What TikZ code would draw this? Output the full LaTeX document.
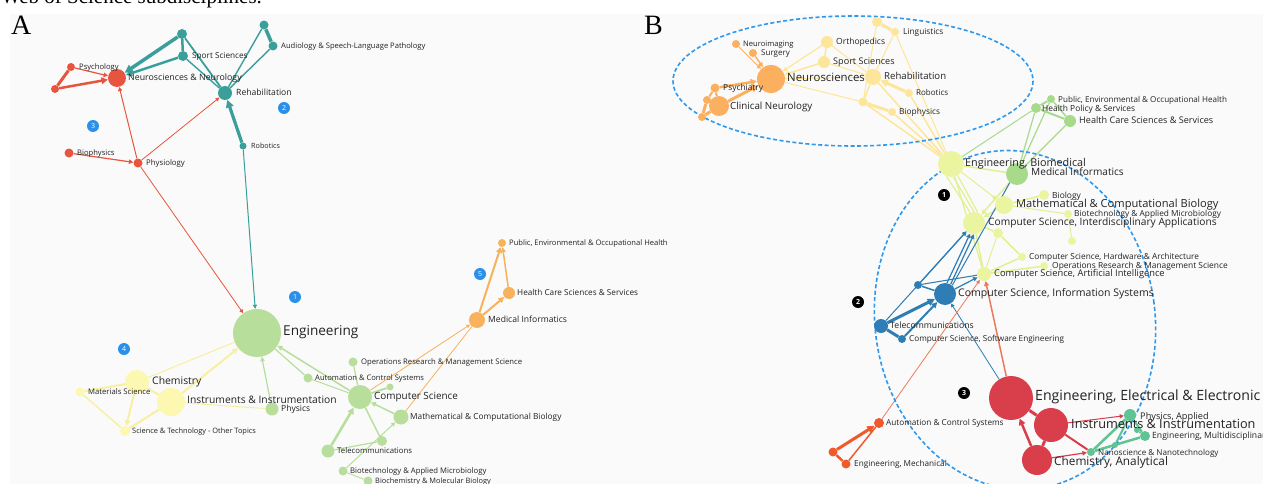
\documentclass[tikz,border=0pt]{standalone}
\usepackage{fontspec}
\setmainfont{Liberation Serif}
\newfontfamily\lab{Open Sans}
\usetikzlibrary{arrows.meta}

\definecolor{panelbg}{HTML}{FAFAFA}
\definecolor{txt}{HTML}{222222}
\definecolor{badgeblue}{HTML}{2A90EA}
\definecolor{dashblue}{HTML}{2D98EE}
% left network
\definecolor{Ared}{HTML}{E8553F}
\definecolor{Ateal}{HTML}{3A9E9A}
\definecolor{Agreen}{HTML}{B7DE9A}
\definecolor{Ayellow}{HTML}{FCF8B2}
\definecolor{Ayedge}{HTML}{F7F0A0}
\definecolor{Aorange}{HTML}{F8B25C}
% right network
\definecolor{Byellow}{HTML}{FDE69A}
\definecolor{Borange}{HTML}{FBB060}
\definecolor{Bgreen}{HTML}{A8DA8C}
\definecolor{Blime}{HTML}{EBF5A0}
\definecolor{Bledge}{HTML}{E2EF92}
\definecolor{Bblue}{HTML}{2E7DB5}
\definecolor{Bred}{HTML}{D83F4B}
\definecolor{Bored}{HTML}{F0592B}
\definecolor{Bsalmon}{HTML}{EC7A5A}
\definecolor{Bteal}{HTML}{5FC394}

\pgfdeclarelayer{panel}
\pgfdeclarelayer{edges}
\pgfsetlayers{panel,edges,main}

\tikzset{
  nd/.style={circle, inner sep=0pt, minimum size=#1},
  lb/.style={anchor=mid west, inner sep=0pt, text=txt, font=\lab\fontsize{#1}{#1}\selectfont},
  badge/.style={circle, fill=badgeblue, inner sep=0pt, minimum size=12pt, text=white, font=\lab\fontsize{7}{7}\selectfont},
  blackbadge/.style={circle, fill=black, inner sep=0pt, minimum size=12pt, text=white, font=\lab\bfseries\fontsize{7}{7}\selectfont},
  lw/.style={line width=#1},
  ar/.style={-{Triangle[length=2.5pt 1.6,width=2.5pt 1.6]}},
  ring/.style={draw=dashblue, line width=1.6pt, dash pattern=on 4pt off 2.5pt},
}

\begin{document}
\begin{tikzpicture}[x=1pt,y=-1pt]
\useasboundingbox (0,0) rectangle (1263,484);
\clip (0,0) rectangle (1263,484);

\begin{pgfonlayer}{panel}
  \fill[panelbg] (10,14) rectangle (1263,484);
\end{pgfonlayer}

\node[anchor=base west, inner sep=0pt, font=\fontsize{21}{21}\selectfont] (caption) at (1,3.5) {Web of Science subdisciplines.};
\node[anchor=base west, inner sep=0pt, font=\fontsize{28}{28}\selectfont] (panelA) at (11,35) {A};
\node[anchor=base west, inner sep=0pt, font=\fontsize{28}{28}\selectfont] (panelB) at (644,35) {B};

% ================= left network =================
\node[nd=18pt, fill=Ared] (aNeuro) at (117,78) {};
\node[nd=8pt, fill=Ared] (aPsych) at (71,67) {};
\node[nd=8pt, fill=Ared] (aRedX) at (55,89) {};
\node[nd=10pt, fill=Ateal] (aTealA) at (182,34) {};
\node[nd=10pt, fill=Ateal] (aSport) at (183,56) {};
\node[nd=9pt, fill=Ateal] (aTealB) at (264,25) {};
\node[nd=9pt, fill=Ateal] (aAudio) at (273,46) {};
\node[nd=14pt, fill=Ateal] (aRehab) at (225,93) {};
\node[nd=7pt, fill=Ateal] (aRobot) at (243,146) {};
\node[nd=9pt, fill=Ared] (aBio) at (69,153) {};
\node[nd=9pt, fill=Ared] (aPhysio) at (138,163) {};
\node[nd=48pt, fill=Agreen] (aEng) at (257,333) {};
\node[nd=24pt, fill=Ayellow] (aChem) at (137,382) {};
\node[nd=28pt, fill=Ayellow] (aInstr) at (171,402) {};
\node[nd=9pt, fill=Ayellow] (aMat) at (80,392) {};
\node[nd=10pt, fill=Ayellow] (aSciTech) at (125,431) {};
\node[nd=13pt, fill=Agreen] (aPhys) at (272,409) {};
\node[nd=9pt, fill=Agreen] (aAuto) at (308,378) {};
\node[nd=9pt, fill=Agreen] (aOps) at (353,362) {};
\node[nd=24pt, fill=Agreen] (aCS) at (360,397) {};
\node[nd=7pt, fill=Agreen] (aCSx) at (390,387) {};
\node[nd=15pt, fill=Agreen] (aMath) at (401,417) {};
\node[nd=10pt, fill=Agreen] (aGx) at (382,441) {};
\node[nd=13pt, fill=Agreen] (aTele) at (328,451) {};
\node[nd=9pt, fill=Agreen] (aBiotech) at (343,471) {};
\node[nd=9pt, fill=Agreen] (aBiochem) at (368,481) {};
\node[nd=16pt, fill=Aorange] (aMed) at (477,320) {};
\node[nd=12pt, fill=Aorange] (aHealth) at (509,293) {};
\node[nd=8pt, fill=Aorange] (aPub) at (502,243) {};

\node[badge] (aB1) at (295,297) {1};
\node[badge] (aB2) at (284,108) {2};
\node[badge] (aB3) at (93,126) {3};
\node[badge] (aB4) at (124,349) {4};
\node[badge] (aB5) at (480,274) {5};

\node[lb=8.8] (aNeuroL) at (128,78) {Neurosciences \& Neurology};
\node[lb=7.6] (aPsychL) at (79,67) {Psychology};
\node[lb=8.2] (aSportL) at (192,56) {Sport Sciences};
\node[lb=7.6] (aAudioL) at (281,46) {Audiology \& Speech-Language Pathology};
\node[lb=8.6] (aRehabL) at (236,93) {Rehabilitation};
\node[lb=7.2] (aRobotL) at (251,146) {Robotics};
\node[lb=7.6] (aBioL) at (77,153) {Biophysics};
\node[lb=7.8] (aPhysioL) at (146,163) {Physiology};
\node[lb=13.6] (aEngL) at (283,333) {Engineering};
\node[lb=10.4] (aChemL) at (152,382) {Chemistry};
\node[lb=10.3] (aInstrL) at (187,401) {Instruments \& Instrumentation};
\node[lb=7.7] (aMatL) at (88,392) {Materials Science};
\node[lb=7.4] (aSciTechL) at (132,431) {Science \& Technology - Other Topics};
\node[lb=8.5] (aPhysL) at (281,409) {Physics};
\node[lb=7.6] (aAutoL) at (315,378) {Automation \& Control Systems};
\node[lb=7.7] (aOpsL) at (361,362) {Operations Research \& Management Science};
\node[lb=9.9] (aCSL) at (374,397) {Computer Science};
\node[lb=8.3] (aMathL) at (410,417) {Mathematical \& Computational Biology};
\node[lb=7.8] (aTeleL) at (337,451) {Telecommunications};
\node[lb=7.7] (aBiotechL) at (350,471) {Biotechnology \& Applied Microbiology};
\node[lb=7.4] (aBiochemL) at (375,481) {Biochemistry \& Molecular Biology};
\node[lb=8.6] (aMedL) at (488,320) {Medical Informatics};
\node[lb=8.2] (aHealthL) at (517,293) {Health Care Sciences \& Services};
\node[lb=7.6] (aPubL) at (509,243) {Public, Environmental \& Occupational Health};

\begin{pgfonlayer}{edges}
  % neuroscience cluster
  \draw[Ared, lw=1.2, ar] (aPsych) -- (aNeuro);
  \draw[Ared, lw=2.5, ar] (aRedX) -- (aNeuro);
  \draw[Ared, lw=3] (aRedX) -- (aPsych);
  \draw[Ared, lw=1, ar] (aPhysio) -- (aNeuro);
  \draw[Ared, lw=0.8, ar] (aPhysio) -- (aRehab);
  \draw[Ared, lw=1.2, ar] (aBio) -- (aPhysio);
  \draw[Ared, lw=0.8, ar] (aPhysio) -- (aEng);
  % rehabilitation cluster
  \draw[Ateal, lw=3.5, ar] (aTealA) -- (aNeuro);
  \draw[Ateal, lw=2.5, ar] (aSport) -- (aNeuro);
  \draw[Ateal, lw=2.5] (aTealA) -- (aSport);
  \draw[Ateal, lw=1.8] (aTealA) -- (aRehab);
  \draw[Ateal, lw=1.4] (aSport) -- (aRehab);
  \draw[Ateal, lw=1.4] (aTealB) -- (aRehab);
  \draw[Ateal, lw=1.4] (aAudio) -- (aRehab);
  \draw[Ateal, lw=3.5] (aTealB) -- (aAudio);
  \draw[Ateal, lw=3.2, ar] (aRobot) -- (aRehab);
  \draw[Ateal, lw=1, ar] (aRobot) -- (aEng);
  % chemistry cluster
  \draw[Ayedge, lw=1] (aChem) -- (aEng);
  \draw[Ayedge, lw=2, ar] (aInstr) -- (aEng);
  \draw[Ayedge, lw=2] (aMat) -- (aChem);
  \draw[Ayedge, lw=1.4] (aMat) -- (aSciTech);
  \draw[Ayedge, lw=2, ar] (aChem) -- (aSciTech);
  \draw[Ayedge, lw=2] (aInstr) -- (aSciTech);
  \draw[Ayedge, lw=1] (aInstr) -- (aPhys);
  \draw[Ayedge, lw=2] (aChem) -- (aInstr);
  % engineering / computer science cluster
  \draw[Agreen, lw=1.2, ar] (aPhys) -- (aEng);
  \draw[Agreen, lw=1.2] (aAuto) -- (aEng);
  \draw[Agreen, lw=1.5, ar] (aCS) -- (aEng);
  \draw[Agreen, lw=1] (aAuto) -- (aCS);
  \draw[Agreen, lw=1.2] (aOps) -- (aCS);
  \draw[Agreen, lw=2] (aCSx) -- (aCS);
  \draw[Agreen, lw=1.5, ar] (aMath) -- (aCS);
  \draw[Agreen, lw=2.5, ar] (aTele) -- (aCS);
  \draw[Agreen, lw=1.2] (aTele) -- (aGx);
  \draw[Agreen, lw=1.5] (aGx) -- (aCS);
  \draw[Agreen, lw=1, ar] (aBiotech) -- (aMath);
  \draw[Agreen, lw=1] (aBiochem) -- (aBiotech);
  % medical informatics cluster
  \draw[Aorange, lw=0.8, ar] (aCS) -- (aMed);
  \draw[Aorange, lw=0.8] (aMath) -- (aMed);
  \draw[Aorange, lw=2, ar] (aMed) -- (aPub);
  \draw[Aorange, lw=2, ar] (aMed) -- (aHealth);
  \draw[Aorange, lw=1.5, ar] (aHealth) -- (aPub);
\end{pgfonlayer}

% ================= right network =================
\draw[ring] (853,81) ellipse [x radius=180, y radius=65];
\draw[ring, rotate around={8:(1015,320)}] (1015,320) ellipse [x radius=140, y radius=170];

\node[nd=28pt, fill=Borange] (bNeuro) at (771,79) {};
\node[nd=8pt, fill=Borange] (bNimg) at (736,44) {};
\node[nd=8pt, fill=Borange] (bSurg) at (753,53) {};
\node[nd=9pt, fill=Borange] (bPsych) at (715,88) {};
\node[nd=8pt, fill=Borange] (bOy) at (707,100) {};
\node[nd=20pt, fill=Borange] (bClin) at (719,106) {};
\node[nd=8pt, fill=Borange] (bOx) at (702,117) {};
\node[nd=12pt, fill=Byellow] (bOrtho) at (827,42) {};
\node[nd=12pt, fill=Byellow] (bSport) at (824,62) {};
\node[nd=16pt, fill=Byellow] (bRehab) at (873,77) {};
\node[nd=8pt, fill=Byellow] (bLing) at (895,32) {};
\node[nd=10pt, fill=Byellow] (bYx) at (877,22) {};
\node[nd=8pt, fill=Byellow] (bRobot) at (909,93) {};
\node[nd=8pt, fill=Byellow] (bBiophys) at (892,112) {};
\node[nd=9pt, fill=Byellow] (bYz) at (863,102) {};
\node[nd=8pt, fill=Bgreen] (bPub) at (1051,99) {};
\node[nd=10pt, fill=Bgreen] (bPol) at (1036,108) {};
\node[nd=12pt, fill=Bgreen] (bHealth) at (1070,121) {};
\node[nd=26pt, fill=Blime] (bBiomed) at (951,164) {};
\node[nd=22pt, fill=Bgreen] (bMedInf) at (1017,174) {};
\node[nd=10pt, fill=Blime] (bBiol) at (1044,195) {};
\node[nd=18pt, fill=Blime] (bMath) at (1004,205) {};
\node[nd=8pt, fill=Blime] (bBiotech) at (1068,214) {};
\node[nd=22pt, fill=Blime] (bCSI) at (974,223) {};
\node[nd=10pt, fill=Blime] (bLx) at (998,233) {};
\node[nd=8pt, fill=Blime] (bLy) at (1072,241) {};
\node[nd=8pt, fill=Blime] (bHard) at (1022,257) {};
\node[nd=8pt, fill=Blime] (bOps) at (1044,266) {};
\node[nd=14pt, fill=Blime] (bAI) at (984,274) {};
\node[nd=22pt, fill=Bblue] (bInfo) at (945,294) {};
\node[nd=8pt, fill=Bblue] (bBx) at (918,285) {};
\node[nd=14pt, fill=Bblue] (bTele) at (881,326) {};
\node[nd=8pt, fill=Bblue] (bSoft) at (902,339) {};
\node[nd=44pt, fill=Bred] (bElec) at (1011,398) {};
\node[nd=34pt, fill=Bred] (bInstr) at (1051,425) {};
\node[nd=30pt, fill=Bred] (bChem) at (1037,460) {};
\node[nd=12pt, fill=Bteal] (bPhysA) at (1130,415) {};
\node[nd=10pt, fill=Bteal] (bEngM) at (1145,436) {};
\node[nd=8pt, fill=Bteal] (bNano) at (1091,452) {};
\node[nd=6pt, fill=Bteal] (bTx) at (1115,445) {};
\node[nd=6pt, fill=Bteal] (bTy) at (1137,430) {};
\node[nd=10pt, fill=Bored] (bAuto) at (879,423) {};
\node[nd=9pt, fill=Bored] (bMech) at (846,464) {};
\node[nd=9pt, fill=Bored] (bOx2) at (833,452) {};

\node[blackbadge] (bB1) at (944,195) {1};
\node[blackbadge] (bB2) at (858,302) {2};
\node[blackbadge] (bB3) at (964,393) {3};

\node[lb=11.4] (bNeuroL) at (787,79) {Neurosciences};
\node[lb=7.6] (bNimgL) at (743,44) {Neuroimaging};
\node[lb=8] (bSurgL) at (761,53) {Surgery};
\node[lb=8.4] (bPsychL) at (723,88) {Psychiatry};
\node[lb=9.8] (bClinL) at (730,107) {Clinical Neurology};
\node[lb=8.5] (bOrthoL) at (836,42) {Orthopedics};
\node[lb=9.1] (bSportL) at (833,62) {Sport Sciences};
\node[lb=9.6] (bRehabL) at (884,77) {Rehabilitation};
\node[lb=8.3] (bLingL) at (903,32) {Linguistics};
\node[lb=8] (bRobotL) at (916,93) {Robotics};
\node[lb=8.3] (bBiophysL) at (899,112) {Biophysics};
\node[lb=8.1] (bPubL) at (1058,100) {Public, Environmental \& Occupational Health};
\node[lb=8.4] (bPolL) at (1042,109) {Health Policy \& Services};
\node[lb=9.1] (bHealthL) at (1079,121) {Health Care Sciences \& Services};
\node[lb=10.8] (bBiomedL) at (965,164) {Engineering, Biomedical};
\node[lb=10.1] (bMedInfL) at (1031,173) {Medical Informatics};
\node[lb=8.4] (bBiolL) at (1052,196) {Biology};
\node[lb=11.1] (bMathL) at (1016,205) {Mathematical \& Computational Biology};
\node[lb=8.3] (bBiotechL) at (1074,214) {Biotechnology \& Applied Microbiology};
\node[lb=10.2] (bCSIL) at (988,223) {Computer Science, Interdisciplinary Applications};
\node[lb=8.3] (bHardL) at (1029,257) {Computer Science, Hardware \& Architecture};
\node[lb=8.4] (bOpsL) at (1052,266) {Operations Research \& Management Science};
\node[lb=9.3] (bAIL) at (994,274) {Computer Science, Artificial Intelligence};
\node[lb=10.5] (bInfoL) at (958,294) {Computer Science, Information Systems};
\node[lb=8.7] (bTeleL) at (890,326) {Telecommunications};
\node[lb=8.2] (bSoftL) at (909,339) {Computer Science, Software Engineering};
\node[lb=14.1] (bElecL) at (1035,398) {Engineering, Electrical \& Electronic};
\node[lb=12.7] (bInstrL) at (1071,426) {Instruments \& Instrumentation};
\node[lb=11.8] (bChemL) at (1054,463) {Chemistry, Analytical};
\node[lb=9.2] (bPhysAL) at (1140,417) {Physics, Applied};
\node[lb=8.6] (bEngML) at (1152,436) {Engineering, Multidisciplinary};
\node[lb=8.1] (bNanoL) at (1098,453) {Nanoscience \& Nanotechnology};
\node[lb=8.2] (bAutoL) at (886,423) {Automation \& Control Systems};
\node[lb=8.2] (bMechL) at (854,464) {Engineering, Mechanical};

\begin{pgfonlayer}{edges}
  % neuroscience cluster
  \draw[Borange, lw=1, ar] (bNimg) -- (bNeuro);
  \draw[Borange, lw=1.5, ar] (bSurg) -- (bNeuro);
  \draw[Borange, lw=2.5, ar] (bPsych) -- (bNeuro);
  \draw[Borange, lw=3, ar] (bClin) -- (bNeuro);
  \draw[Borange, lw=2] (bPsych) -- (bClin);
  \draw[Borange, lw=3] (bOx) -- (bClin);
  \draw[Borange, lw=2] (bOy) -- (bPsych);
  \draw[Borange, lw=3] (bOx) -- (bOy);
  % rehabilitation cluster
  \draw[Byellow, lw=1.2, ar] (bOrtho) -- (bNeuro);
  \draw[Byellow, lw=1.5, ar] (bSport) -- (bNeuro);
  \draw[Byellow, lw=1.5] (bOrtho) -- (bSport);
  \draw[Byellow, lw=1] (bOrtho) -- (bRehab);
  \draw[Byellow, lw=1] (bSport) -- (bRehab);
  \draw[Byellow, lw=1] (bRehab) -- (bNeuro);
  \draw[Byellow, lw=1] (bYz) -- (bNeuro);
  \draw[Byellow, lw=1.5] (bRehab) -- (bYz);
  \draw[Byellow, lw=1] (bLing) -- (bRehab);
  \draw[Byellow, lw=3] (bYx) -- (bLing);
  \draw[Byellow, lw=1] (bYx) -- (bYz);
  \draw[Byellow, lw=3, ar] (bRobot) -- (bRehab);
  \draw[Byellow, lw=3] (bBiophys) -- (bYz);
  \draw[Byellow, lw=1.5] (bRehab) -- (bBiomed);
  \draw[Byellow, lw=1.5] (bRobot) -- (bBiomed);
  \draw[Byellow, lw=1.5] (bBiophys) -- (bBiomed);
  \draw[Byellow, lw=1.5] (bYz) -- (bBiomed);
  \draw[Byellow, lw=1] (bLing) -- (bBiomed);
  % health cluster
  \draw[Bgreen, lw=2] (bPub) -- (bPol);
  \draw[Bgreen, lw=2] (bPol) -- (bHealth);
  \draw[Bgreen, lw=1.5] (bPub) -- (bHealth);
  \draw[Bgreen, lw=1.2] (bPol) -- (bMedInf);
  \draw[Bgreen, lw=1.2] (bPub) -- (bMedInf);
  \draw[Bgreen, lw=1.2] (bHealth) -- (bMedInf);
  \draw[Bgreen, lw=1] (bPol) -- (bBiomed);
  % biomedical / computing cluster
  \draw[Bledge, lw=1.5] (bBiomed) -- (bMedInf);
  \draw[Bledge, lw=1.2] (bBiomed.250) -- (bCSI.110);
  \draw[Bledge, lw=1.2] (bBiomed.280) -- (bCSI.90);
  \draw[Bledge, lw=1.2] (bBiomed.300) -- (bCSI.70);
  \draw[Bledge, lw=1, ar] (bBiomed) -- (bMath);
  \draw[Bledge, lw=1.2] (bBiomed) -- (bAI);
  \draw[Bledge, lw=1.5, ar] (bMath) -- (bCSI);
  \draw[Bledge, lw=1.5] (bMath) -- (bBiol);
  \draw[Bledge, lw=1] (bMath) -- (bBiotech);
  \draw[Bledge, lw=1] (bBiotech) -- (bLy);
  \draw[Bledge, lw=1.5] (bCSI) -- (bLx);
  \draw[Bledge, lw=1.5] (bLx) -- (bHard);
  \draw[Bledge, lw=1.5] (bHard) -- (bAI);
  \draw[Bledge, lw=1.5] (bOps) -- (bAI);
  \draw[Bledge, lw=1.5] (bCSI) -- (bAI);
  \draw[Bledge, lw=1] (bLx) -- (bAI);
  \draw[Bledge, lw=1.5, ar] (bMedInf) -- (bCSI);
  % information systems cluster
  \draw[Bblue, lw=1.2, ar] (bInfo.80) -- (bCSI.250);
  \draw[Bblue, lw=1.2, ar] (bInfo.60) -- (bCSI.270);
  \draw[Bblue, lw=1] (bInfo.50) -- (bMedInf.230);
  \draw[Bblue, lw=1.2, ar] (bInfo) -- (bAI);
  \draw[Bblue, lw=1.5] (bBx) -- (bInfo);
  \draw[Bblue, lw=1.2, ar] (bBx) -- (bCSI);
  \draw[Bblue, lw=1] (bBx) -- (bAI);
  \draw[Bblue, lw=3, ar] (bTele) -- (bInfo);
  \draw[Bblue, lw=2, ar] (bSoft) -- (bInfo);
  \draw[Bblue, lw=3] (bTele) -- (bSoft);
  \draw[Bblue, lw=1, ar] (bTele) -- (bCSI);
  \draw[Bblue, lw=0.8, ar] (bElec) -- (bInfo);
  % electrical engineering cluster
  \draw[Bsalmon, lw=1.5, ar] (bElec) -- (bAI);
  \draw[Bred, lw=3] (bInstr) -- (bElec);
  \draw[Bred, lw=2.5, ar] (bChem) -- (bElec);
  \draw[Bred, lw=3] (bChem) -- (bInstr);
  \draw[Bred, lw=1, ar] (bInstr) -- (bPhysA);
  \draw[Bred, lw=1.2, ar] (bChem) -- (bNano);
  \draw[Bred, lw=2] (bInstr) -- (bNano);
  % mechanical cluster
  \draw[Bsalmon, lw=0.8, ar] (bAuto) -- (bAI);
  \draw[Bored, lw=1.5] (bAuto) -- (bMech);
  \draw[Bored, lw=3, ar] (bOx2) -- (bAuto);
  \draw[Bored, lw=2.5] (bOx2) -- (bMech);
  % nanoscience cluster
  \draw[Bteal, lw=2.5] (bNano) -- (bPhysA);
  \draw[Bteal, lw=2.5] (bNano) -- (bEngM);
  \draw[Bteal, lw=2] (bTx) -- (bPhysA);
  \draw[Bteal, lw=2] (bTy) -- (bEngM);
  \draw[Bteal, lw=2] (bPhysA) -- (bEngM);
\end{pgfonlayer}
\end{tikzpicture}
\end{document}
